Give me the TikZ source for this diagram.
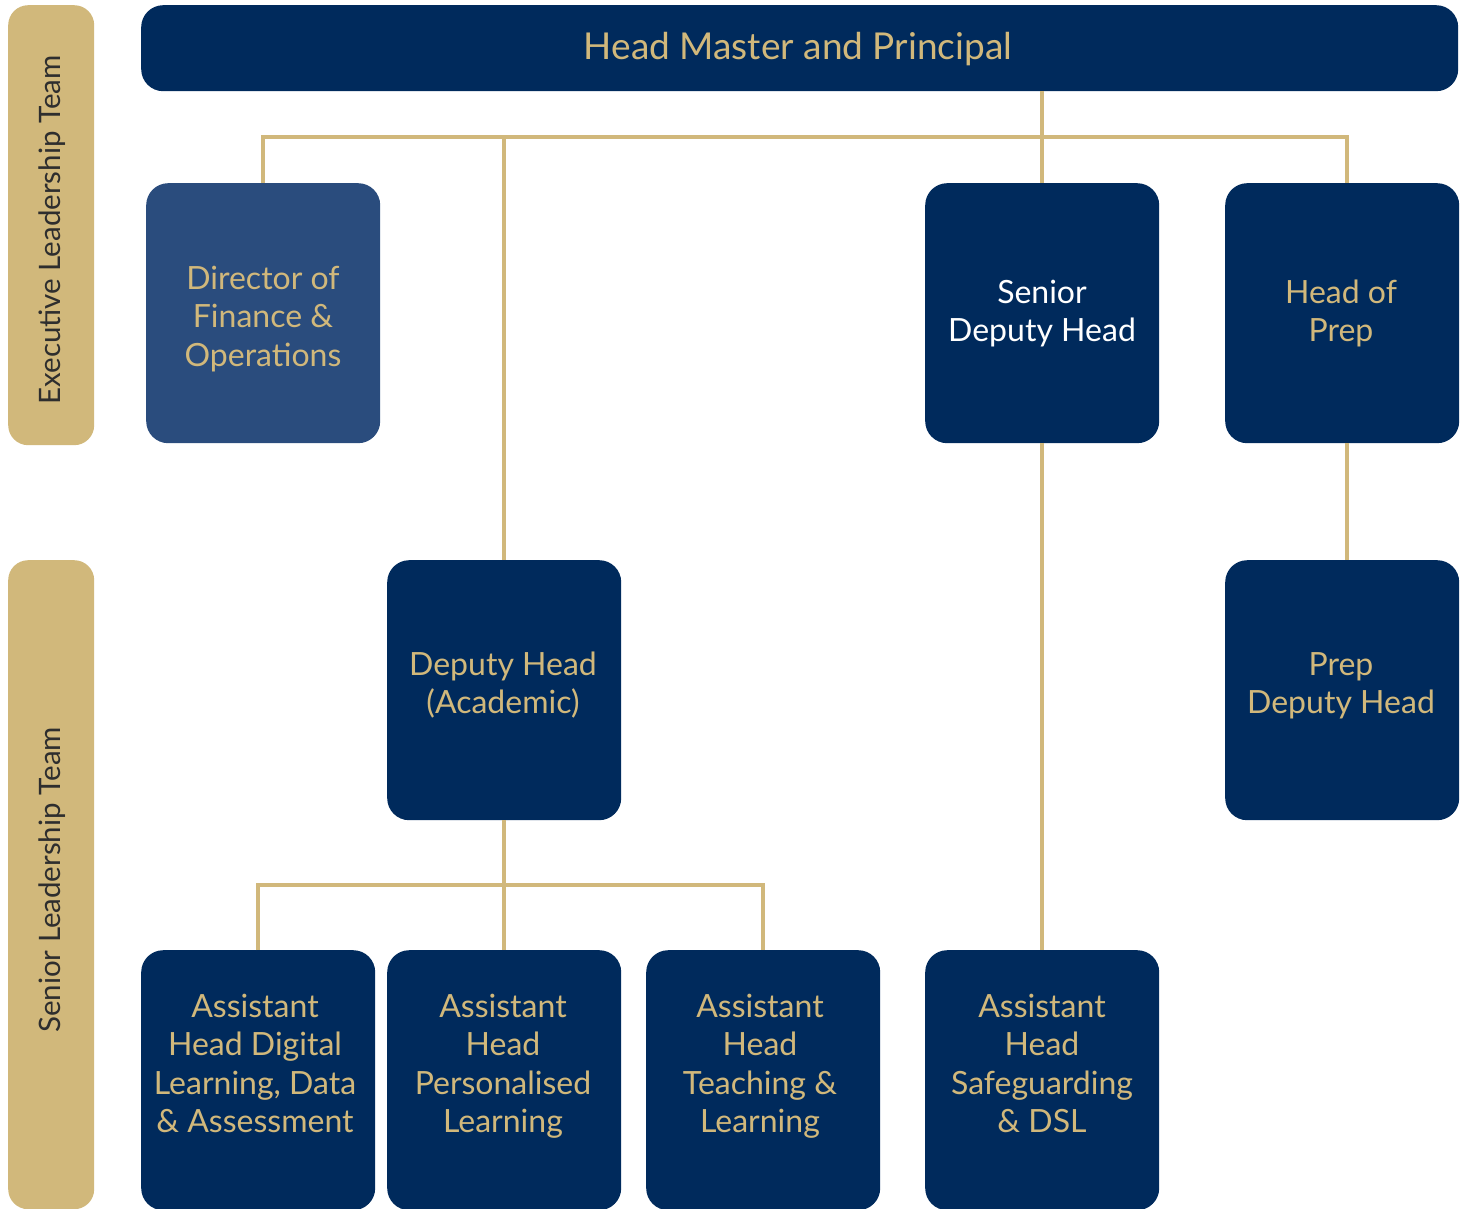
\documentclass[tikz,border=0pt]{standalone}
\usepackage{fontspec}
\setmainfont{Lato}
\definecolor{navy}{HTML}{002A5C}
\definecolor{midblue}{HTML}{2A4C7D}
\definecolor{gold}{HTML}{D1B87B}
\definecolor{lanetext}{HTML}{2E2E2E}
\begin{document}
\begin{tikzpicture}[x=1pt,y=-1pt,
  box/.style={rectangle,rounded corners=22pt,fill=navy,draw=none,anchor=north west,inner sep=0pt},
  lane/.style={rectangle,rounded corners=20pt,fill=gold,draw=none,anchor=north west,inner sep=0pt,minimum width=86pt},
  txt/.style={align=center,text=gold,font=\fontsize{32}{38.5}\selectfont,inner sep=0pt,anchor=north},
  wtxt/.style={txt,text=white},
  lanelabel/.style={rotate=90,text=lanetext,font=\fontsize{29.5}{32}\selectfont,inner sep=0pt},
  conn/.style={draw=gold,line width=4.5pt,line join=miter}]
\useasboundingbox (0,0) rectangle (1467,1209);
% lanes
\node[lane,minimum height=440pt] (exlane) at (8,5) {};
\node[lane,minimum height=649pt] (snlane) at (8,560) {};
\node[lanelabel] (exlab) at (52,230) {Executive Leadership Team};
\node[lanelabel] (snlab) at (52,880) {Senior Leadership Team};
% boxes
\node[box,minimum width=1317pt,minimum height=86pt] (top) at (141,5) {};
\node[box,fill=midblue,minimum width=234pt,minimum height=260pt] (dfo) at (146,183) {};
\node[box,minimum width=234pt,minimum height=260pt] (sdh) at (925,183) {};
\node[box,minimum width=234pt,minimum height=260pt] (hop) at (1225,183) {};
\node[box,minimum width=234pt,minimum height=260pt] (dha) at (387,560) {};
\node[box,minimum width=234pt,minimum height=260pt] (pdh) at (1225,560) {};
\node[box,minimum width=234pt,minimum height=260pt] (ahd) at (141,950) {};
\node[box,minimum width=234pt,minimum height=260pt] (ahp) at (387,950) {};
\node[box,minimum width=234pt,minimum height=260pt] (aht) at (646,950) {};
\node[box,minimum width=234pt,minimum height=260pt] (ahs) at (925,950) {};
% texts
\node[txt,anchor=center,font=\fontsize{37}{40}\selectfont] (toptxt) at (798,49) {Head Master and Principal};
\node[txt] (dfotxt) at (263,262) {\strut Director of\\Finance \&\\Operations};
\node[wtxt] (sdhtxt) at (1042,276) {\strut Senior\\Deputy Head};
\node[txt] (hoptxt) at (1341,276) {\strut Head of\\Prep};
\node[txt] (dhatxt) at (503,648) {\strut Deputy Head\\(Academic)};
\node[txt] (pdhtxt) at (1341,648) {\strut Prep\\Deputy Head};
\node[txt] (ahdtxt) at (255,990) {\strut Assistant\\Head Digital\\Learning, Data\\\& Assessment};
\node[txt] (ahptxt) at (503,990) {\strut Assistant\\Head\\Personalised\\Learning};
\node[txt] (ahttxt) at (760,990) {\strut Assistant\\Head\\Teaching \&\\Learning};
\node[txt] (ahstxt) at (1042,990) {\strut Assistant\\Head\\Safeguarding\\\& DSL};
% connectors
\coordinate (bus) at (0,137);
\coordinate (bus2) at (0,885);
\coordinate (hopn) at ([xshift=5pt]hop.north);
\coordinate (hops) at ([xshift=5pt]hop.south);
\coordinate (pdhn) at ([xshift=5pt]pdh.north);
\draw[conn] (top.south -| sdh.north) -- (sdh.north);
\draw[conn] (dfo.north) -- (dfo.north |- bus) -- (hopn |- bus) -- (hopn);
\draw[conn] (dha.north |- bus) -- (dha.north);
\draw[conn] (sdh.south) -- (ahs.north);
\draw[conn] (hops) -- (pdhn);
\draw[conn] (dha.south) -- (ahp.north);
\draw[conn] (ahd.north) -- (ahd.north |- bus2) -- (aht.north |- bus2) -- (aht.north);
\end{tikzpicture}
\end{document}
